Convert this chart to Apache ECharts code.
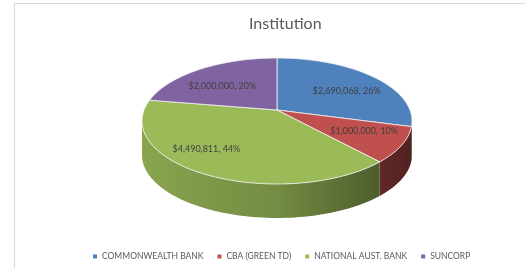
<!DOCTYPE html>
<html>
<head>
<meta charset="utf-8">
<script src="https://cdn.jsdelivr.net/npm/echarts@6/dist/echarts.min.js"></script>
<style>
  html, body { margin: 0; padding: 0; background: #fff; }
  #chart { width: 525px; height: 268px; }
</style>
</head>
<body>
<div id="chart"></div>
<script>
var institutions = ['COMMONWEALTH BANK', 'CBA (GREEN TD)', 'NATIONAL AUST. BANK', 'SUNCORP'];
var amounts = [2690068, 1000000, 4490811, 2000000];
var percents = [26, 10, 44, 20];
var colors = ['#4f81bd', '#c0504d', '#9bbb59', '#8064a2'];

// pie geometry (pixels)
var cx = 277, cy = 121, rx = 135, ry = 63, apexY = 110, depth = 34;

var total = amounts.reduce(function (a, b) { return a + b; }, 0);
var starts = [], ends = [];
var acc = 0;
amounts.forEach(function (v) {
  starts.push(acc / total * 360);
  acc += v;
  ends.push(acc / total * 360);
});

function rim(deg, dy) {
  var r = deg * Math.PI / 180;
  return [cx + rx * Math.sin(r), cy - ry * Math.cos(r) + (dy || 0)];
}
function arcPts(a, b, dy) {
  var pts = [];
  var n = Math.max(2, Math.ceil((b - a) / 2));
  for (var i = 0; i <= n; i++) pts.push(rim(a + (b - a) * i / n, dy));
  return pts;
}
function shade(hex, f) {
  var n = parseInt(hex.slice(1), 16);
  var r = Math.round(((n >> 16) & 255) * f);
  var g = Math.round(((n >> 8) & 255) * f);
  var b = Math.round((n & 255) * f);
  return 'rgb(' + r + ',' + g + ',' + b + ')';
}
function money(v) {
  return '$' + v.toLocaleString('en-US');
}

function renderSlice(params, api) {
  var i = params.seriesIndex;
  var a = api.value(0), b = api.value(1);
  var color = colors[i];
  var children = [];

  // front wall, only the part facing the viewer
  var wa = Math.max(a, 90), wb = Math.min(b, 270);
  if (wb > wa) {
    var top = arcPts(wa, wb, 0);
    var bot = arcPts(wa, wb, depth).reverse();
    children.push({
      type: 'polygon',
      shape: { points: top.concat(bot) },
      style: {
        fill: new echarts.graphic.LinearGradient(cx - rx, 0, cx + rx, 0, [
          { offset: 0, color: shade(color, 0.88) },
          { offset: 0.5, color: shade(color, 0.75) },
          { offset: 0.8, color: shade(color, 0.55) },
          { offset: 1, color: shade(color, 0.42) }
        ], true)
      }
    });
  }

  // top face
  children.push({
    type: 'polygon',
    shape: { points: [[cx, apexY]].concat(arcPts(a, b, 0)) },
    style: { fill: color, stroke: '#f4f4f4', lineWidth: 0.8 }
  });

  // data label
  var p = rim((a + b) / 2, 0);
  var kx = p[0] < cx && p[1] > apexY ? 1.05 : 0.7;
  children.push({
    type: 'text',
    style: {
      text: money(amounts[i]) + ', ' + percents[i] + '%',
      x: cx + kx * (p[0] - cx),
      y: apexY + 0.6 * (p[1] - apexY),
      fill: '#404040',
      fontSize: 9,
      fontFamily: 'Lato',
      align: 'center',
      verticalAlign: 'middle'
    }
  });

  return { type: 'group', children: children };
}

var series = institutions.map(function (name, i) {
  return {
    type: 'custom',
    name: name,
    coordinateSystem: 'none',
    renderItem: renderSlice,
    itemStyle: { color: colors[i] },
    data: [[starts[i], ends[i]]]
  };
});

var chart = echarts.init(document.getElementById('chart'));
chart.setOption({
  animation: false,
  title: {
    text: 'Institution',
    left: 244,
    top: 11,
    textStyle: { color: '#595959', fontSize: 16, fontWeight: 'normal', fontFamily: 'Lato' }
  },
  legend: {
    data: institutions,
    icon: 'rect',
    itemWidth: 4,
    itemHeight: 4,
    itemGap: 14,
    left: 88,
    top: 247,
    textStyle: { color: '#595959', fontSize: 8.5, fontFamily: 'Lato' }
  },
  graphic: [{
    type: 'rect',
    shape: { x: 14.5, y: 3.5, width: 600, height: 300 },
    style: { fill: 'none', stroke: '#d9d9d9', lineWidth: 1 },
    z: -10
  }],
  series: series
});
</script>
</body>
</html>
